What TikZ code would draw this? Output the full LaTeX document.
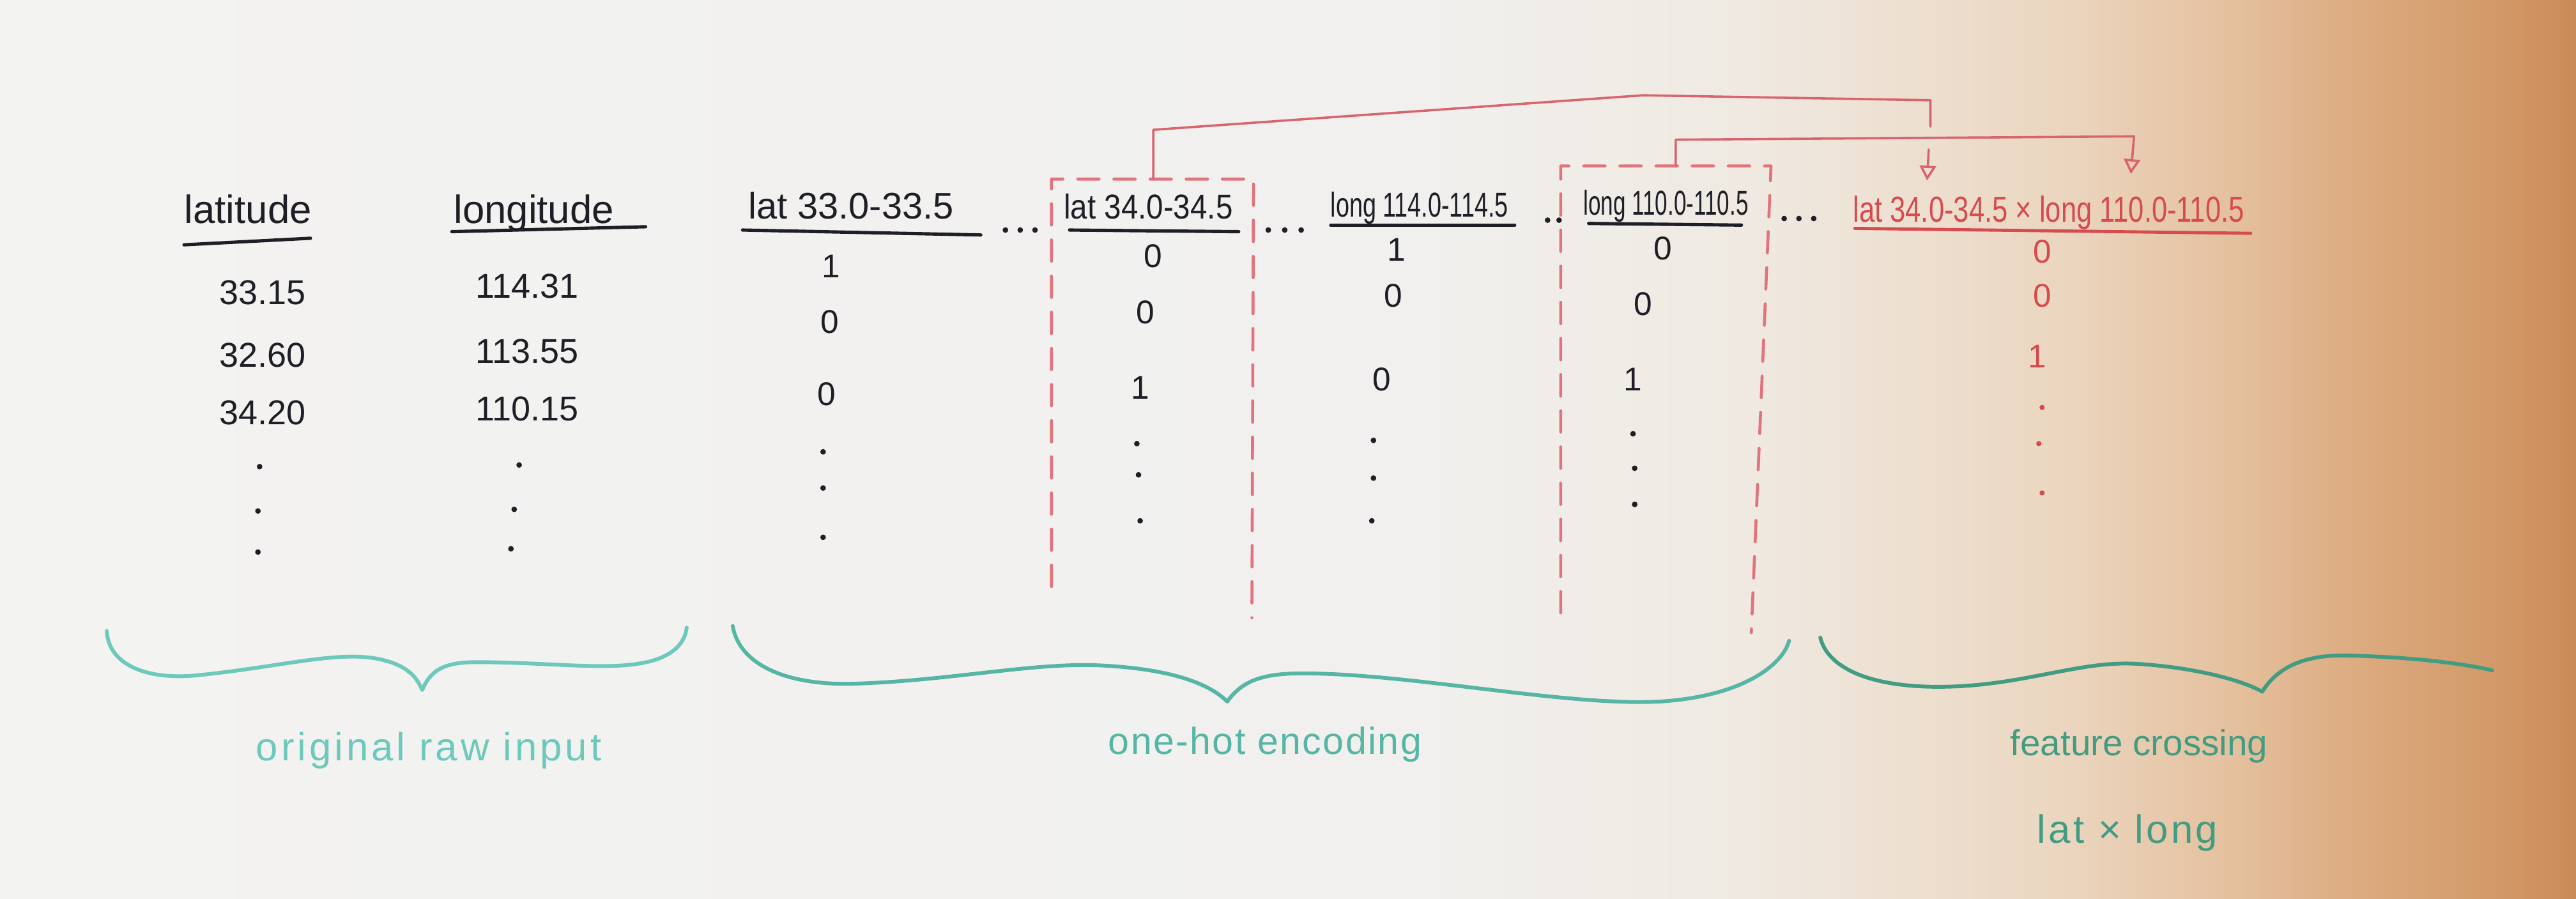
\documentclass[tikz,border=0pt]{standalone}
\usepackage{fontspec}
\setmainfont{Liberation Sans}
\usetikzlibrary{arrows.meta}
\definecolor{ink}{HTML}{1E1E26}
\definecolor{redbox}{HTML}{E2737C}
\definecolor{redline}{HTML}{D9646D}
\definecolor{redtext}{HTML}{D64B4E}
\definecolor{tealA}{HTML}{6CC9BC}
\definecolor{tealB}{HTML}{55B6A5}
\definecolor{tealC}{HTML}{419C82}
\definecolor{bgA}{HTML}{F3F3F1}
\definecolor{bgB}{HTML}{F1F0EE}
\definecolor{bgC}{HTML}{EFE9E1}
\definecolor{bgD}{HTML}{EBD6C0}
\definecolor{bgE}{HTML}{E4BF9C}
\definecolor{bgF}{HTML}{DBA97D}
\definecolor{bgG}{HTML}{D29968}
\definecolor{bgH}{HTML}{CA8A57}
\pgfdeclarehorizontalshading{board}{100bp}{color(0bp)=(bgA); color(25bp)=(bgA); color(52.5bp)=(bgB); color(59bp)=(bgC); color(65bp)=(bgD); color(68.5bp)=(bgE); color(71bp)=(bgF); color(73.5bp)=(bgG); color(75bp)=(bgH); color(100bp)=(bgH)}
\tikzset{
  hdr/.style={inner sep=0pt, anchor=base, text=ink, font=\fontsize{24}{28}\selectfont},
  colhdr/.style={inner sep=0pt, anchor=base, text=ink},
  num/.style={inner sep=0pt, anchor=center, text=ink, font=\fontsize{21}{25}\selectfont},
  bit/.style={inner sep=0pt, anchor=center, text=ink, font=\fontsize{20}{24}\selectfont},
  rbit/.style={bit, text=redtext},
  uline/.style={draw=ink, line width=2pt},
  dbox/.style={draw=redbox, line width=1.8pt, dash pattern=on 13pt off 9pt},
  conn/.style={draw=redline, line width=1.4pt},
  tip/.style={-{Triangle[open,length=9pt,width=10pt,line width=1.4pt]}},
  brace/.style={line width=2.3pt},
  lbl/.style={inner sep=0pt, anchor=base}
}
\begin{document}
\begin{tikzpicture}[x=1pt,y=-1pt,line cap=round,line join=round]
\useasboundingbox (0,0) rectangle (1568,547);
\shade[shading=board] (0,0) rectangle (1568,547);

% raw input columns
\node[hdr] (hlat) at (151,136) {latitude};
\node[hdr] (hlon) at (325,136) {longitude};
\draw[uline] (112,149) -- (189,145);
\draw[uline] (275,141) -- (393,138);
\node[num] (v11) at (160,178) {33.15};
\node[num] (v12) at (160,216) {32.60};
\node[num] (v13) at (160,251) {34.20};
\node[num] (v21) at (321,174) {114.31};
\node[num] (v22) at (321,214) {113.55};
\node[num] (v23) at (321,249) {110.15};
\foreach \x/\y in {158/284,157/311,157/336,316/283,313/310,311/334}
  \fill[ink] (\x,\y) circle[radius=1.7pt];

% one-hot columns
\node[colhdr, font={\fontsize{22.5}{26}\selectfont}] (h3) at (518,133) {lat 33.0-33.5};
\node[colhdr, font={\fontsize{21}{25}\selectfont\addfontfeatures{FakeStretch=0.88}}] (h4) at (699,133) {lat 34.0-34.5};
\node[colhdr, font={\fontsize{21}{25}\selectfont\addfontfeatures{FakeStretch=0.70}}] (h5) at (864,132) {long 114.0-114.5};
\node[colhdr, font={\fontsize{21}{25}\selectfont\addfontfeatures{FakeStretch=0.65}}] (h6) at (1014,131) {long 110.0-110.5};
\draw[uline] (452,140) -- (597,143);
\draw[uline] (651,140) -- (754,141);
\draw[uline] (810,137) -- (922,137);
\draw[uline] (967,136) -- (1060,137);

\node[bit] (b31) at (506,162) {1};
\node[bit] (b32) at (505,196) {0};
\node[bit] (b33) at (503,240) {0};
\node[bit] (b41) at (702,156) {0};
\node[bit] (b42) at (697,190) {0};
\node[bit] (b43) at (694,236) {1};
\node[bit] (b51) at (850,152) {1};
\node[bit] (b52) at (848,180) {0};
\node[bit] (b53) at (841,231) {0};
\node[bit] (b61) at (1012,151) {0};
\node[bit] (b62) at (1000,185) {0};
\node[bit] (b63) at (994,231) {1};
\foreach \x/\y in {501/275,501/297,501/327, 692/270,693/289,694/317, 836/268,836/291,835/317, 994/264,995/285,995/307,
  612/140,621/140,630/140, 772/140,782/140,792/140, 942/134,949/134, 1086/133,1095/133,1104/133}
  \fill[ink] (\x,\y) circle[radius=1.7pt];

% dashed selection boxes
\draw[dbox] (640,357) -- (640,109) -- (763,109) -- (762,376);
\draw[dbox] (950,373) -- (950,101) -- (1078,101) -- (1066,385);

% crossed feature
\node[colhdr, text=redtext, font={\fontsize{22}{26}\selectfont\addfontfeatures{FakeStretch=0.77}}] (hx) at (1247,135) {lat 34.0-34.5 × long 110.0-110.5};
\draw[draw=redtext, line width=1.9pt] (1129,139) -- (1370,142);
\node[rbit] (bx1) at (1243,153) {0};
\node[rbit] (bx2) at (1243,180) {0};
\node[rbit] (bx3) at (1240,217) {1};
\foreach \x/\y in {1243/248,1241/270,1243/300}
  \fill[redtext] (\x,\y) circle[radius=1.6pt];

% connectors
\coordinate (aTop) at (702,109);
\coordinate (bTop) at (1020,101);
\coordinate (hopA) at (1175,77);
\coordinate (hopB) at (1174,91);
\coordinate (in1) at ([xshift=-74pt,yshift=9pt]hx.north);
\coordinate (in2) at ([xshift=50pt,yshift=13pt]hx.north);
\draw[conn] (aTop) -- (702,79) -- (1000,58) -- (1175,61) -- (hopA);
\draw[conn, tip] (hopB) -- (in1);
\draw[conn, tip] (bTop) -- (1020,85) -- (1299,83) -- (in2);

% braces
\draw[brace, tealA] (65,384) .. controls (66,405) and (90,414) .. (120,411)
  .. controls (170,406) and (205,396) .. (230,401)
  .. controls (245,404) and (253,410) .. (257,420)
  .. controls (262,408) and (270,403) .. (290,403)
  .. controls (340,403) and (380,410) .. (403,400)
  .. controls (412,396) and (417,390) .. (418,382);
\draw[brace, tealB] (446,381) .. controls (450,405) and (480,418) .. (523,416)
  .. controls (580,414) and (630,403) .. (670,405)
  .. controls (710,407) and (735,415) .. (747,427)
  .. controls (755,416) and (765,411) .. (785,410)
  .. controls (850,408) and (950,430) .. (1010,427)
  .. controls (1060,424) and (1085,405) .. (1089,390);
\draw[brace, tealC] (1108,388) .. controls (1112,405) and (1135,418) .. (1180,418)
  .. controls (1230,418) and (1265,402) .. (1300,404)
  .. controls (1335,406) and (1365,414) .. (1377,421)
  .. controls (1385,408) and (1400,398) .. (1430,399)
  .. controls (1470,400) and (1500,404) .. (1517,408);

% labels
\node[lbl, text=tealA, font={\fontsize{24}{28}\selectfont\addfontfeatures{LetterSpace=8}}] (l1) at (261,463) {original raw input};
\node[lbl, text=tealB, font={\fontsize{23}{27}\selectfont\addfontfeatures{LetterSpace=4}}] (l2) at (770,459) {one-hot encoding};
\node[lbl, text=tealC, font={\fontsize{22}{26}\selectfont}] (l3) at (1302,460) {feature crossing};
\node[lbl, text=tealC, font={\fontsize{24}{28}\selectfont\addfontfeatures{LetterSpace=7}}] (l4) at (1295,513) {lat × long};
\end{tikzpicture}
\end{document}
